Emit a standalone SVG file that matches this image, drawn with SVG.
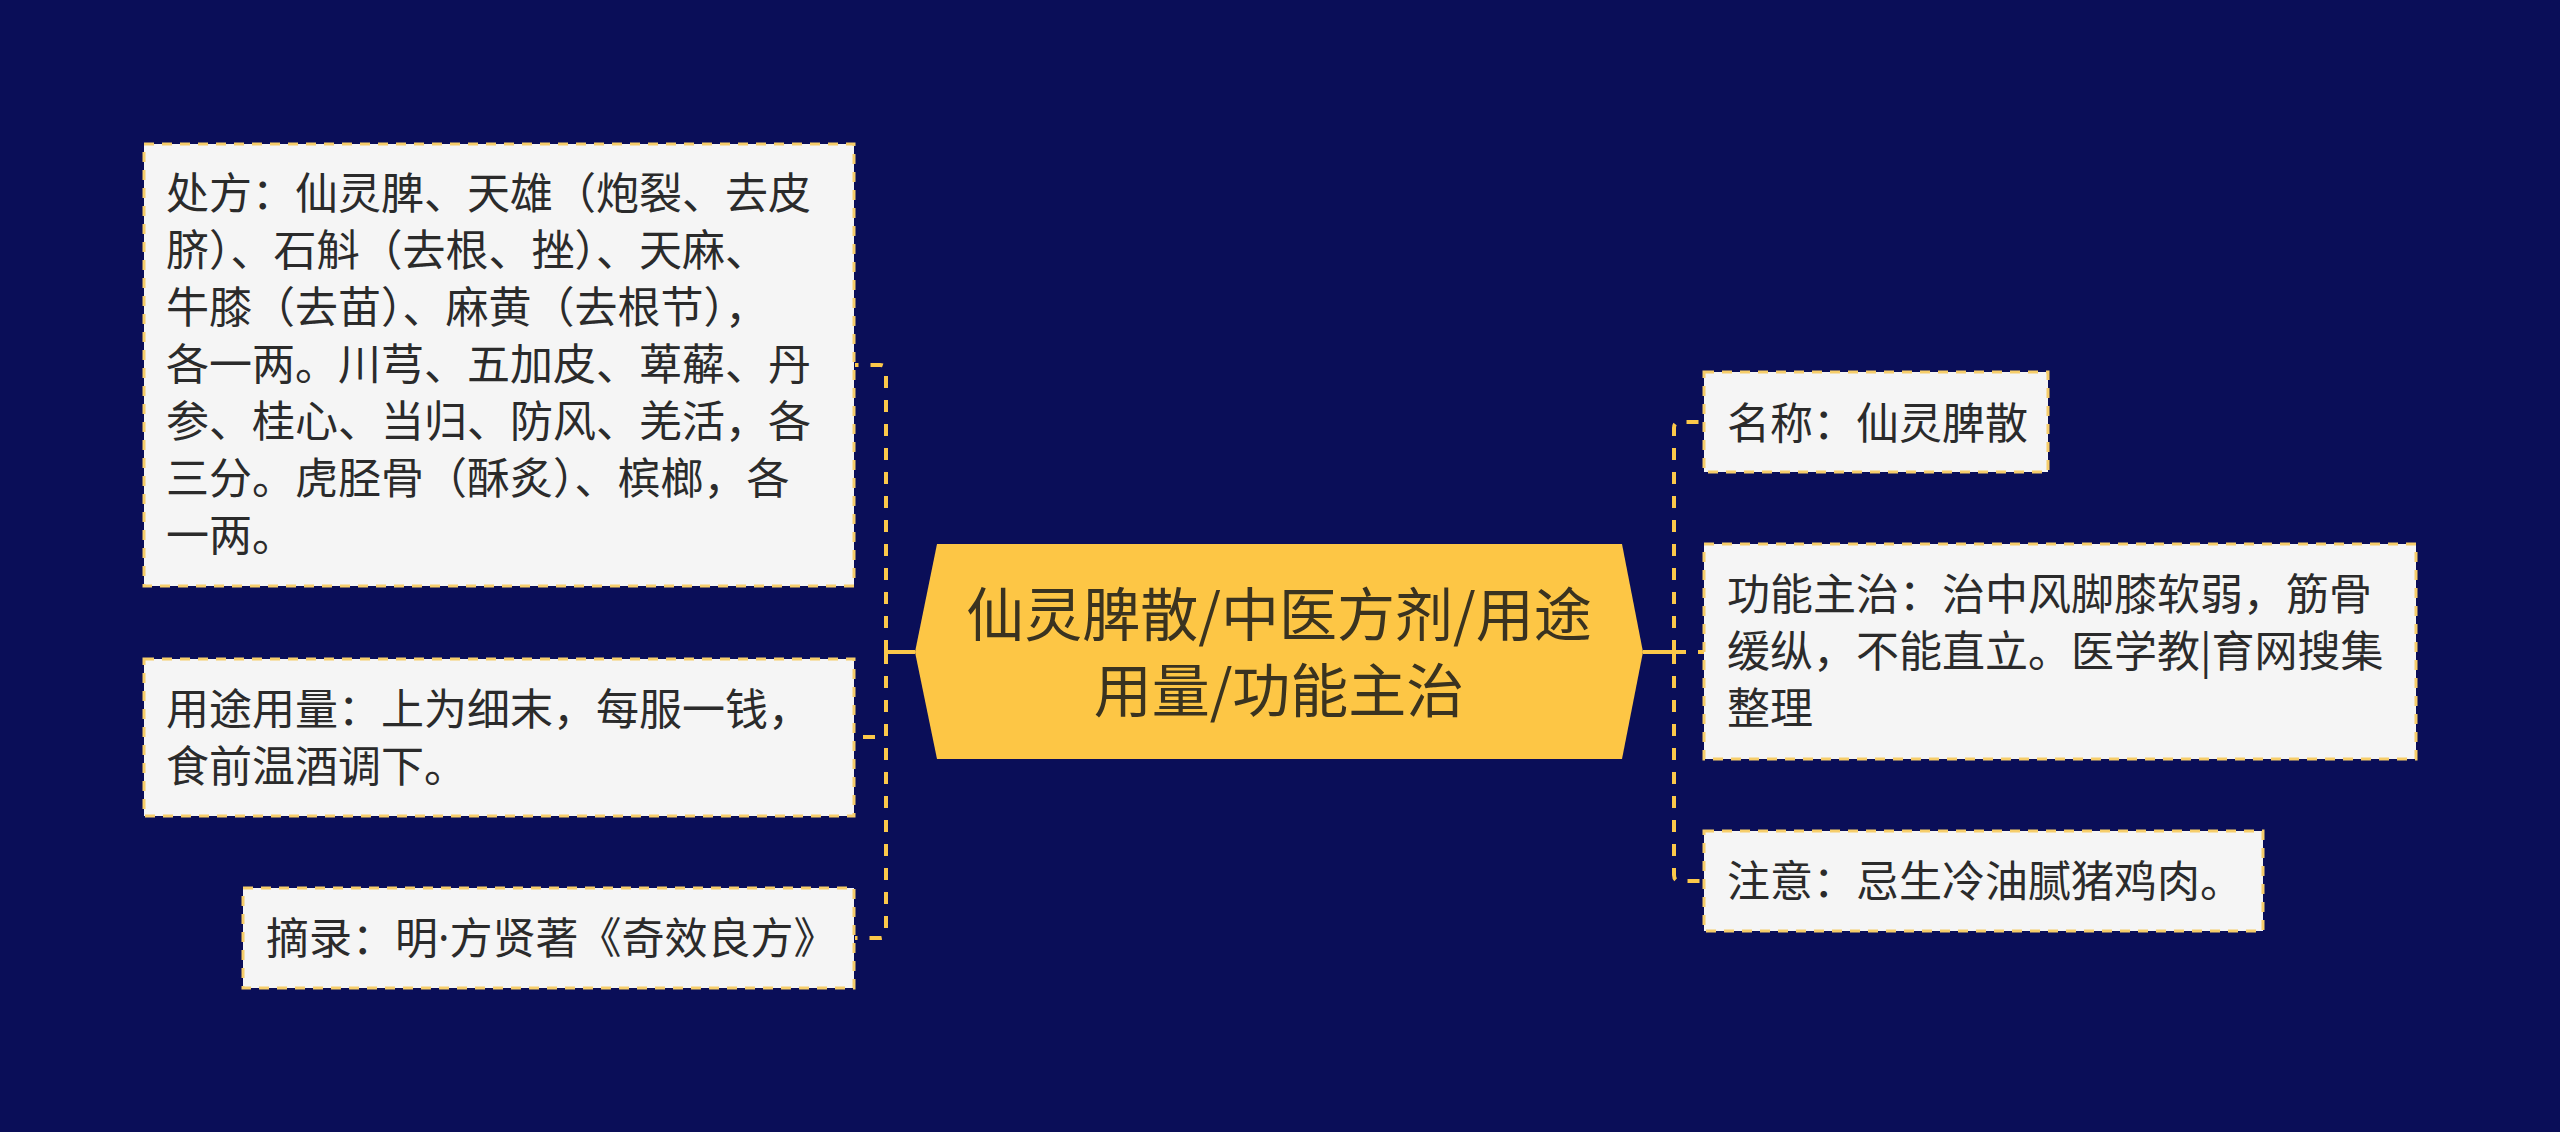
<svg xmlns="http://www.w3.org/2000/svg" width="2560" height="1132" viewBox="0 0 2560 1132">
<style>
.bg{fill:#0a0e58}
.box{fill:#f5f5f5;stroke:#f6cd6a;stroke-width:3;stroke-dasharray:10 8}
.t{font-family:"Noto Sans CJK SC","Noto Sans",sans-serif;font-size:43px;fill:#2b2b2b}
.lat{font-family:"Noto Sans","DejaVu Sans",sans-serif}
.ct{font-family:"Noto Sans CJK SC","Noto Sans",sans-serif;font-size:58px;fill:#3a3320;text-anchor:middle}
.hub{fill:#fdc645}
.link{fill:none;stroke:#fcc84a;stroke-width:4;stroke-dasharray:12 12}
.stub{fill:none;stroke:#fcc84a;stroke-width:4}
</style>
<rect class="bg" x="0" y="0" width="2560" height="1132"/>
<g id="connectors">
<line class="stub" x1="915" y1="652" x2="886" y2="652"/>
<path class="link" d="M886 652 V371 Q886 365 880 365 H855"/>
<path class="link" d="M886 652 V737 H855"/>
<path class="link" d="M886 652 V932 Q886 938 880 938 H855"/>
<line class="stub" x1="1643" y1="652" x2="1674" y2="652"/>
<path class="link" d="M1674 652 V428 Q1674 422 1680 422 H1704"/>
<path class="link" d="M1674 652 H1704"/>
<path class="link" d="M1674 652 V875 Q1674 881 1680 881 H1704"/>
</g>
<g id="center">
<polygon class="hub" points="915,652 937,544 1622,544 1643,652 1622,759 937,759"/>
<text class="ct" x="1279" y="636">仙灵脾散/中医方剂/用途</text>
<text class="ct" x="1279" y="712">用量/功能主治</text>
</g>
<g id="node-chufang">
<rect class="box" x="144" y="144" width="710" height="442"/>
<text class="t" x="166" y="209">处方：仙灵脾、天雄（炮裂、去皮</text>
<text class="t" x="166" y="266">脐）、石斛（去根、挫）、天麻、</text>
<text class="t" x="166" y="323">牛膝（去苗）、麻黄（去根节），</text>
<text class="t" x="166" y="380">各一两。川芎、五加皮、萆薢、丹</text>
<text class="t" x="166" y="437">参、桂心、当归、防风、羌活，各</text>
<text class="t" x="166" y="494">三分。虎胫骨（酥炙）、槟榔，各</text>
<text class="t" x="166" y="551">一两。</text>
</g>
<g id="node-yongtu">
<rect class="box" x="144" y="659" width="710" height="157"/>
<text class="t" x="166" y="725">用途用量：上为细末，每服一钱，</text>
<text class="t" x="166" y="782">食前温酒调下。</text>
</g>
<g id="node-zhailu">
<rect class="box" x="243" y="888" width="611" height="100"/>
<text class="t" x="266" y="954">摘录：明<tspan class="lat">·</tspan>方贤著《奇效良方》</text>
</g>
<g id="node-mingcheng">
<rect class="box" x="1704" y="372" width="344" height="100"/>
<text class="t" x="1727" y="439">名称：仙灵脾散</text>
</g>
<g id="node-gongneng">
<rect class="box" x="1704" y="544" width="712" height="215"/>
<text class="t" x="1727" y="610">功能主治：治中风脚膝软弱，筋骨</text>
<text class="t" x="1727" y="667">缓纵，不能直立。医学教|育网搜集</text>
<text class="t" x="1727" y="724">整理</text>
</g>
<g id="node-zhuyi">
<rect class="box" x="1704" y="831" width="559" height="100"/>
<text class="t" x="1727" y="897">注意：忌生冷油腻猪鸡肉。</text>
</g>
</svg>
